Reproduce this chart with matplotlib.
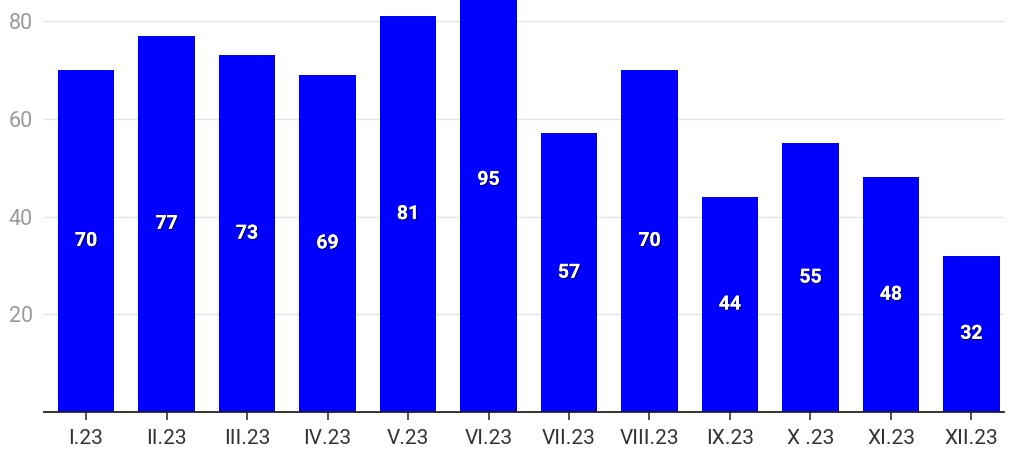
import matplotlib.pyplot as plt
import matplotlib.patheffects as pe

months = ["I.23", "II.23", "III.23", "IV.23", "V.23", "VI.23",
          "VII.23", "VIII.23", "IX.23", "X .23", "XI.23", "XII.23"]
values = [70, 77, 73, 69, 81, 95, 57, 70, 44, 55, 48, 32]
yticks = [20, 40, 60, 80]

plt.rcParams['font.family'] = ['Roboto', 'DejaVu Sans']

fig = plt.figure(figsize=(10.13, 4.51), dpi=100)
ax = fig.add_axes([44/1013, 1 - 412/451, 960/1013, 412/451])

x = range(len(months))
ax.bar(x, values, width=0.7, color="#0000ff", zorder=2)

for i, v in zip(x, values):
    ax.text(i, v / 2, str(v), ha="center", va="center", color="white",
            fontsize=14, fontweight="bold", zorder=3,
            path_effects=[pe.withSimplePatchShadow(offset=(0.9, -0.9),
                                                    shadow_rgbFace="#000022",
                                                    alpha=0.7),
                          pe.Normal()])

ax.set_xlim(-0.522, 11.404)
ax.set_ylim(0, 84.3)
ax.set_xticks(list(x))
ax.set_xticklabels(months, fontsize=15, color="#333333")
ax.set_yticks(yticks)
ax.set_yticklabels([str(t) for t in yticks], fontsize=15.5, color="#9a9a9a")
ax.tick_params(axis="y", length=0, pad=8)
ax.tick_params(axis="x", length=6, width=1.2, color="#333333", pad=6)
ax.grid(axis="y", color="#e3e3e3", linewidth=1, zorder=0)

for s in ["top", "right", "left"]:
    ax.spines[s].set_visible(False)
ax.spines["bottom"].set_color("#222222")
ax.spines["bottom"].set_linewidth(1.3)

fig.savefig("out.png", dpi=100)
